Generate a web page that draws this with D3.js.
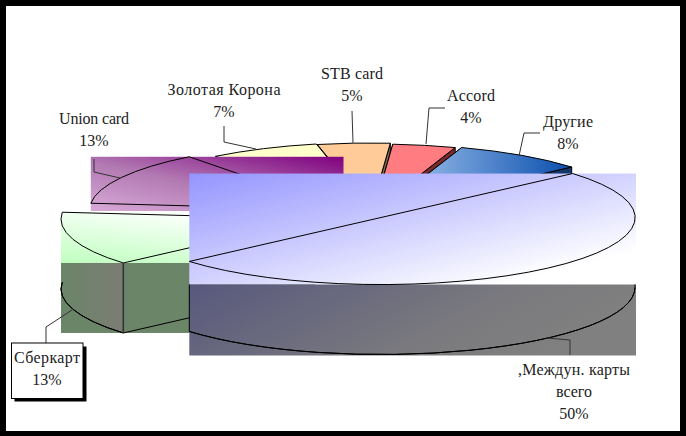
<!DOCTYPE html>
<html><head><meta charset="utf-8">
<script src="https://cdn.jsdelivr.net/npm/d3@7"></script>
<style>html,body{margin:0;padding:0;background:#000;overflow:hidden}svg{display:block}</style>
</head><body><svg id="c" width="686" height="436"></svg>
<script>
// data
const categories = [",Междун. карты всего", "Сберкарт", "Union card", "Золотая Корона", "STB card", "Accord", "Другие"];
const shares = [50, 13, 13, 7, 4.6, 4, 8.4];

// layout, kept apart from the data
const rx = 254, ry = 67, depth = 70, firstAngle = 49 * Math.PI / 180;
const centres = [[381,217.5],[315,219],[343.5,210],[370,209.5],[371,210],[373.5,211],[380,211]];
const labelLines = [[",Междун. карты","всего"],["Сберкарт"],["Union card"],["Золотая Корона"],["STB card"],["Accord"],["Другие"]];
const labelAt = [[574,370],[47,358],[94,119],[224,90],[352,74],[471,96],[568,122]];
const labelWidths = [112,66,70,113,62,48,50];
const leaders = [[[547,338],[570,340],[570,355]],[[46,343],[46,327],[72,310]],[[94,159],[94,172],[120,178]],
  [[224,126],[224,142],[256,149]],[[352,111],[353,143]],[[445,108],[429,108],[426,144]],[[540,133],[524,133],[519,156]]];

const svg = d3.select("#c");
const defs = svg.append("defs");
function grad(id, a, b, stops){
  const g = defs.append("linearGradient").attr("id",id).attr("x1",a[0]).attr("y1",a[1]).attr("x2",b[0]).attr("y2",b[1]);
  stops.forEach(s=>g.append("stop").attr("offset",s[0]).attr("stop-color",s[1]));
}
grad("gBig",[0,0],[1,1],[[0,"#9494ff"],[0.85,"#ffffff"]]);
grad("gBigSide",[0,0],[1,0.3],[[0,"#58587e"],[0.7,"#7a7a7e"],[1,"#808080"]]);
grad("gSber",[0,1],[0.55,0],[[0,"#c0ffc0"],[1,"#ffffff"]]);
grad("gUnion",[0,1],[1,0],[[0,"#d8aad8"],[0.45,"#b27ab2"],[1,"#800080"]]);
grad("gWall",[0,0],[1,0],[[0,"#6a8568"],[1,"#7c7c74"]]);
grad("gOther",[0,0],[1,0],[[0.3,"#7fa8de"],[1,"#0a4fae"]]);

svg.append("rect").attr("x",6).attr("y",6).attr("width",674).attr("height",425).attr("fill","#fff");

const pie = d3.pie().sort(null).startAngle(firstAngle).endAngle(firstAngle + 2*Math.PI);
const slices = pie(shares);
const arc = d3.arc().innerRadius(0).outerRadius(rx);
const rim = d3.arc().innerRadius(rx).outerRadius(rx);
const stretch = (c,dy=0)=>`translate(${c[0]},${c[1]+dy}) scale(1,${ry/rx})`;
const pt = (c,a,dy=0)=>{const p=d3.pointRadial(a,rx);return [c[0]+p[0],c[1]+p[1]*ry/rx+dy];};

function bbox(i){
  const c=centres[i],s=slices[i];
  const pts=[c].concat(d3.range(0,121).map(k=>pt(c,s.startAngle+(s.endAngle-s.startAngle)*k/120)));
  return {x0:d3.min(pts,p=>p[0]),x1:d3.max(pts,p=>p[0]),y0:d3.min(pts,p=>p[1]),y1:d3.max(pts,p=>p[1])};
}
function outline(g,i,dy,path,fill,w){
  g.append("path").attr("d",path).attr("transform",stretch(centres[i],dy))
   .attr("fill",fill||"none").attr("stroke","#000").attr("stroke-width",w||1).attr("vector-effect","non-scaling-stroke");
}
const line = d3.line();

// back slices: radial faces first, then the tops
const wallColours = {3:"#7d6b4d",4:"#7d6b4d",5:"#7a2a2a",6:"#12386c"};
const topFills = {3:"#ffffcc",4:"#ffcc99",5:"#ff7c80",6:"url(#gOther)"};
const back = svg.append("g");
[3,4,5,6].forEach(i=>{
  const c=centres[i],s=slices[i];
  [s.startAngle,s.endAngle].forEach(a=>{
    const p=pt(c,a);
    back.append("path").attr("d",line([p,c,[c[0],c[1]+depth],[p[0],p[1]+depth]])+"Z")
      .attr("fill",wallColours[i]).attr("stroke","#000").attr("stroke-width",1);
  });
});
[3,4,5,6].forEach(i=>outline(back,i,0,arc(slices[i]),topFills[i]));

// Union card
{
  const b=bbox(2), g=svg.append("g");
  g.append("rect").attr("x",b.x0).attr("y",b.y0).attr("width",b.x1-b.x0).attr("height",b.y1-b.y0+1).attr("fill","url(#gUnion)");
  outline(g,2,0,arc(slices[2]));
}
// Сберкарт
{
  const i=1,b=bbox(i),g=svg.append("g"),c=centres[i],s=slices[i];
  g.append("rect").attr("x",b.x0).attr("y",b.y0).attr("width",b.x1-b.x0).attr("height",b.y1-b.y0).attr("fill","url(#gSber)");
  g.append("rect").attr("x",b.x0).attr("y",b.y1).attr("width",b.x1-b.x0).attr("height",depth).attr("fill","#6a8568");
  const as=d3.range(0,61).map(k=>s.startAngle+(s.endAngle-s.startAngle)*k/60);
  const wall=as.map(a=>pt(c,a)).concat(as.slice().reverse().map(a=>pt(c,a,depth)));
  defs.append("clipPath").attr("id","cWall").append("rect").attr("x",b.x0).attr("y",b.y1).attr("width",b.x1-b.x0).attr("height",depth);
  g.append("path").attr("d",line(wall)+"Z").attr("fill","url(#gWall)").attr("clip-path","url(#cWall)");
  outline(g,i,0,arc(s));
  outline(g,i,depth,rim(s));
  const p0=pt(c,s.startAngle);
  g.append("path").attr("d",line([[p0[0],p0[1]+depth],[c[0],c[1]+depth]])).attr("stroke","#000").attr("stroke-width",1);
  g.append("path").attr("d",line([p0,[p0[0],p0[1]+depth]])).attr("stroke","#333").attr("stroke-width",1.6);
}
// международные карты
{
  const i=0,b=bbox(i),g=svg.append("g"),s=slices[i],c=centres[i];
  g.append("rect").attr("x",b.x0).attr("y",b.y0).attr("width",b.x1-b.x0+1).attr("height",b.y1-b.y0).attr("fill","url(#gBig)");
  g.append("rect").attr("x",b.x0).attr("y",b.y1).attr("width",b.x1-b.x0+1).attr("height",depth+1).attr("fill","url(#gBigSide)");
  outline(g,i,0,arc(s));
  outline(g,i,depth,rim({startAngle:Math.PI/2,endAngle:s.endAngle}));
  const p=pt(c,s.endAngle), e=pt(c,Math.PI/2);
  g.append("path").attr("d",line([[p[0],b.y1],[p[0],p[1]+depth]])).attr("stroke","#000").attr("stroke-width",1);
  g.append("path").attr("d",line([[e[0],b.y1],[e[0],e[1]+depth]])).attr("stroke","#000").attr("stroke-width",1);
}
// leaders
leaders.forEach(l=>svg.append("path").attr("d",line(l)).attr("fill","none").attr("stroke","#333").attr("stroke-width",1));

// boxed label of Сберкарт
svg.append("rect").attr("x",14.5).attr("y",346.5).attr("width",72).attr("height",55).attr("fill","#000");
svg.append("rect").attr("x",11.5).attr("y",343).attr("width",71.5).attr("height",55.5).attr("fill","#fff").attr("stroke","#000");

// labels
const pct=d3.format(".0f");
categories.forEach((name,i)=>{
  const rows=labelLines[i].concat(pct(shares[i])+"%");
  const t=svg.append("text").attr("text-anchor","middle").attr("font-family","'Liberation Serif',serif").attr("font-size",16).attr("fill","#222");
  rows.forEach((r,k)=>{
    const s=t.append("tspan").attr("x",labelAt[i][0]).attr("y",labelAt[i][1]+5+22*k).text(r);
    if(k===0) s.attr("textLength",labelWidths[i]).attr("lengthAdjust","spacing");
  });
});
</script></body></html>
